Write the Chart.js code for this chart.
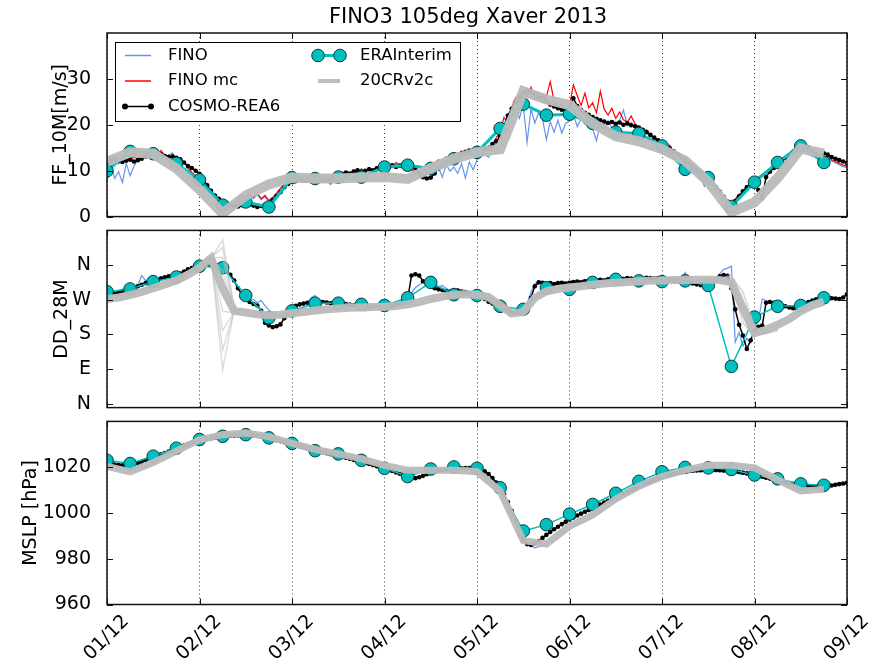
<!DOCTYPE html>
<html>
<head>
<meta charset="utf-8">
<script src="https://cdn.jsdelivr.net/npm/chart.js@4/dist/chart.umd.min.js"></script>
<style>
  html, body { margin: 0; padding: 0; background: #fff; }
  #wrap { position: relative; width: 873px; height: 667px; overflow: hidden; }
  #wrap canvas { position: absolute; left: 0; }
  #title { position: absolute; left: 0; top: 3px; width: 936px; text-align: center;
           font: 21px/27px 'DejaVu Sans', 'Liberation Sans', sans-serif; color: #000; white-space: nowrap; }
</style>
</head>
<body>
<div id="wrap">
  <canvas id="cFF" width="873" height="236" style="top:0px"></canvas>
  <canvas id="cDD" width="873" height="216" style="top:211px"></canvas>
  <canvas id="cMS" width="873" height="265" style="top:402px"></canvas>
  <div id="title"></div>
</div>
<script>
// ---- labels ----
const chartTitle = 'FINO3 105deg Xaver 2013';
const dayLabels = ['01/12', '02/12', '03/12', '04/12', '05/12', '06/12', '07/12', '08/12', '09/12'];
const dayTicks = [0, 24, 48, 72, 96, 120, 144, 168, 192];   // hours since 01/12 00 UTC
const ffTicks = [0, 10, 20, 30];
const ddTicks = [0, 90, 180, 270, 360];
const ddTickLabels = ['N', 'E', 'S', 'W', 'N'];
const msTicks = [960, 980, 1000, 1020];
const names = ['FINO', 'FINO mc', 'COSMO-REA6', 'ERAInterim', '20CRv2c'];

// ---- FF_10M [m/s] ----
// hourly, 01/12 00 .. 09/12 00
const finoFF = [
  7.5, 11.2, 8.3, 9.8, 7.4, 11.6, 8.9, 11.0, 12.4, 13.1, 13.8, 12.9, 14.1, 13.3, 13.9, 12.8, 13.4, 13.9, 12.2, 11.3, 11.7, 10.5, 9.4, 8.7,
  8.0, 6.9, 6.0, 5.0, 4.2, 3.4, 2.7, 2.2, 2.0, 2.8, 3.6, 4.3, 3.5, 4.6, 3.9, 4.8, 3.7, 4.3, 3.3, 3.9, 4.8, 5.9, 6.8, 7.3,
  8.0, 7.3, 8.1, 7.5, 8.3, 7.2, 7.8, 8.6, 7.5, 8.0, 7.0, 8.2, 8.7, 8.3, 9.2, 8.6, 9.9, 9.3, 10.1, 9.5, 10.4, 9.8, 10.6, 10.0,
  10.5, 11.2, 10.6, 11.5, 10.9, 10.3, 11.1, 10.0, 9.5, 8.8, 8.4, 9.1, 10.1, 9.2, 10.7, 8.6, 11.3, 9.9, 10.8, 9.4, 11.6, 8.4, 11.9, 10.2,
  12.4, 13.1, 13.6, 12.9, 14.8, 16.1, 17.3, 19.8, 19.0, 22.1, 23.6, 21.4, 24.3, 16.2, 23.5, 20.4, 22.6, 21.3, 16.8, 20.7, 18.4, 21.0, 18.2, 20.3,
  20.8, 22.4, 19.6, 21.3, 20.1, 21.7, 19.2, 16.5, 20.4, 19.6, 20.9, 19.3, 20.2, 21.0, 23.2, 19.8, 20.5, 19.4, 18.9, 18.1, 18.5, 17.0, 16.7, 15.8,
  15.4, 14.8, 15.1, 13.6, 13.2, 12.3, 12.5, 11.0, 10.4, 10.0, 8.8, 6.6, 7.5, 6.8, 6.4, 5.0, 4.3, 3.0, 2.7, 3.5, 4.6, 5.1, 6.3, 7.1,
  7.6, 8.2, 8.9, 9.3, 10.1, 10.8, 11.4, 12.2, 12.9, 13.5, 14.3, 14.6, 15.0, 14.5, 13.8, 13.1, 13.6, 12.8, 12.5, 13.0, 12.1, 11.7, 11.3, 10.9, 10.7
];
const finoMcFF = [
  10.5, 11.8, 12.9, 11.6, 12.7, 13.4, 12.2, 13.0, 12.5, 13.6, 14.2, 13.1, 14.0, 13.6, 14.4, 13.3, 12.7, 13.5, 12.4, 11.6, 11.9, 10.8, 9.6, 8.9,
  8.2, 7.1, 6.3, 5.2, 4.4, 3.6, 2.9, 2.4, 2.1, 3.0, 3.9, 4.6, 3.8, 4.9, 4.2, 5.1, 3.9, 4.6, 3.5, 4.2, 5.1, 6.2, 7.0, 7.6,
  8.3, 7.5, 8.4, 7.8, 8.6, 7.4, 8.0, 8.9, 7.7, 8.3, 7.2, 8.5, 9.0, 8.6, 9.5, 8.9, 10.2, 9.6, 10.4, 9.8, 10.7, 10.1, 10.9, 10.3,
  10.8, 11.5, 10.9, 11.8, 11.2, 10.6, 11.4, 10.3, 9.8, 9.1, 8.7, 9.4, 10.5, 11.7, 12.4, 11.8, 13.1, 12.6, 13.7, 13.2, 14.3, 13.6, 14.5, 13.9,
  14.1, 13.2, 15.0, 14.4, 15.6, 17.2, 18.5, 21.6, 20.4, 23.8, 25.9, 24.6, 27.1, 26.3, 28.2, 25.7, 26.8, 24.9, 26.1, 29.4, 25.2, 23.9, 24.8, 22.7,
  24.1, 28.7, 26.4, 24.2, 26.9, 23.7, 24.8, 22.6, 27.3, 23.4, 22.1, 23.6, 21.4, 22.8, 21.1, 20.6, 21.9, 20.2, 19.5, 18.7, 18.9, 17.6, 17.1, 16.2,
  15.8, 15.1, 15.6, 14.0, 13.7, 12.6, 12.9, 11.3, 10.8, 10.4, 9.1, 9.3, 7.8, 7.1, 6.7, 5.2, 4.6, 3.2, 2.9, 3.8, 4.9, 5.3, 6.6, 7.4,
  7.9, 8.5, 9.2, 9.6, 10.4, 11.1, 11.7, 12.5, 13.2, 13.8, 14.6, 14.9, 15.3, 14.8, 14.1, 13.4, 13.9, 13.1, 12.8, 13.3, 12.4, 12.0, 11.6, 11.2, 11.0
];
const cosmoFF = [
  11.8, 12.3, 12.5, 12.1, 11.9, 12.2, 12.4, 12.0, 12.3, 12.6, 13.1, 13.5, 13.8, 13.4, 13.6, 13.2, 13.0, 13.1, 12.8, 12.5, 11.8, 11.0, 10.6, 10.0,
  9.3, 8.2, 6.8, 5.6, 4.6, 3.9, 3.3, 3.0, 2.6, 2.4, 2.2, 2.5, 2.3, 2.6, 2.4, 2.1, 2.3, 2.6, 2.8, 3.6, 4.5, 5.3, 6.4, 7.1,
  7.6, 7.9, 8.2, 7.8, 8.0, 8.3, 8.1, 7.9, 8.2, 8.0, 8.4, 8.6, 8.9, 9.3, 9.6, 9.4, 9.8, 10.1, 9.7, 10.0, 10.3, 10.1, 10.5, 10.4,
  10.6, 10.9, 11.2, 10.8, 11.1, 11.4, 11.0, 11.3, 10.6, 9.5, 8.6, 8.3, 8.5, 9.4, 10.5, 11.2, 11.8, 12.3, 12.9, 13.4, 13.8, 14.1, 14.4, 14.2,
  14.5, 14.3, 14.7, 15.0, 15.8, 16.4, 17.5, 19.8, 22.0, 23.5, 24.8, 26.0, 26.9, 27.4, 27.2, 26.6, 25.9, 26.2, 25.1, 24.4, 24.0, 23.6, 23.3, 23.0,
  23.6, 25.8, 24.1, 23.2, 22.6, 22.2, 21.7, 21.3, 21.0, 20.7, 20.4, 20.6, 20.2, 20.5, 20.0, 20.3, 19.9, 19.7, 19.4, 18.9, 18.4, 17.8, 17.2, 16.6,
  16.0, 15.4, 14.9, 14.2, 13.6, 13.0, 12.3, 11.6, 10.9, 10.2, 9.6, 8.9, 8.2, 7.4, 6.4, 5.4, 4.3, 3.3, 2.6, 3.4, 4.4, 5.5, 6.4, 7.1,
  7.4, 5.8, 4.0, 8.6, 9.8, 10.6, 11.3, 12.0, 12.7, 13.3, 13.9, 14.5, 15.0, 15.4, 15.1, 14.3, 13.6, 13.2, 13.8, 13.5, 13.0, 12.6, 12.3, 12.0, 11.7
];
// 6-hourly, 01/12 00 .. 08/12 18
const eraFF = [10.0, 14.2, 13.7, 11.6, 8.0, 2.5, 3.2, 2.1, 8.5, 8.3, 8.6, 8.6, 10.8, 11.2, 10.5, 12.6,
               14.0, 19.2, 24.5, 22.1, 22.3, 20.3, 18.4, 18.1, 15.4, 10.3, 8.5, 2.2, 7.5, 11.8, 15.4, 11.8];
const crFF = [12.0, 14.0, 13.7, 10.5, 5.9, 0.7, 4.6, 7.0, 8.5, 8.3, 8.3, 8.5, 8.6, 8.2, 10.5, 12.6,
              14.0, 14.7, 27.3, 25.5, 24.3, 20.3, 17.5, 16.4, 14.7, 12.2, 7.6, 1.0, 3.1, 8.4, 14.8, 13.7];

// ---- DD_28M [deg] ----
const finoDD = [
  293, 296, 290, 294, 297, 300, 302, 305, 307, 333, 320, 322, 327, 324, 330, 329, 333, 336, 335, 340, 344, 348, 351, 354,
  357, 359, 358, 361, 359, 358, 352, 345, 333, 318, 296, 288, 276, 268, 271, 262, 268, 255, 243, 236, 229, 227, 232, 240,
  248, 253, 256, 259, 262, 276, 281, 266, 263, 262, 264, 261, 259, 257, 258, 262, 258, 256, 254, 251, 252, 255, 257, 255,
  256, 255, 257, 259, 262, 268, 276, 288, 301, 309, 314, 318, 311, 306, 303, 307, 299, 296, 300, 297, 293, 295, 290, 286,
  285, 280, 274, 267, 262, 258, 254, 249, 244, 240, 238, 239, 242, 258, 290, 312, 318, 316, 314, 316, 313, 315, 317, 315,
  317, 319, 318, 320, 322, 321, 323, 322, 325, 324, 326, 325, 327, 326, 328, 327, 326, 328, 327, 329, 328, 327, 328, 327,
  326, 325, 324, 322, 321, 320, 341, 318, 316, 315, 313, 312, 311, 315, 326, 338, 349, 352, 357, 160, 185, 150, 170, 158,
  200, 215, 272, 268, 264, 260, 257, 255, 254, 252, 251, 250, 255, 260, 266, 270, 273, 274, 276, 277, 276, 275, 274, 278, 285
];
const cosmoDD = [
  290, 287, 285, 289, 292, 295, 298, 301, 305, 309, 313, 316, 318, 321, 325, 328, 331, 332, 334, 338, 343, 349, 352, 355,
  358, 360, 361, 359, 362, 360, 354, 344, 335, 320, 300, 283, 272, 264, 259, 255, 241, 210, 203, 199, 201, 206, 222, 238,
  250, 254, 258, 260, 262, 263, 261, 262, 264, 263, 261, 262, 260, 258, 259, 257, 256, 255, 252, 246, 250, 254, 255, 254,
  255, 256, 254, 257, 259, 262, 270, 333, 336, 333, 318, 310, 306, 300, 297, 295, 292, 290, 292, 294, 291, 289, 287, 284,
  282, 278, 272, 265, 260, 256, 252, 247, 241, 237, 235, 236, 238, 252, 275, 305, 315, 314, 312, 313, 311, 313, 314, 312,
  314, 316, 317, 315, 318, 320, 319, 321, 322, 320, 323, 324, 322, 325, 324, 326, 325, 324, 326, 325, 327, 326, 325, 326,
  325, 324, 322, 320, 318, 317, 316, 314, 312, 310, 308, 306, 305, 310, 322, 331, 334, 332, 300, 245, 205, 177, 142, 165,
  190, 200, 203, 262, 264, 262, 258, 255, 253, 250, 248, 247, 252, 258, 264, 268, 271, 273, 274, 275, 274, 273, 272, 276, 284
];
const eraDD = [291, 298, 317, 329, 357, 353, 281, 223, 241, 261, 261, 258, 255, 275, 315, 283,
               281, 253, 245, 301, 297, 315, 323, 319, 317, 319, 307, 97, 225, 253, 255, 275];
// 3-hourly ensemble mean track, 01/12 00 .. 08/12 18
const crDD = [272, 276, 282, 290, 300, 310, 320, 335, 353, 378, 300, 241, 237, 232, 230, 231,
              235, 238, 242, 245, 247, 249, 250, 251, 252, 254, 258, 264, 272, 278, 283, 284,
              283, 277, 255, 234, 238, 275, 292, 298, 302, 305, 309, 312, 314, 316, 318, 319,
              320, 321, 321, 322, 322, 321, 316, 248, 183, 192, 205, 220, 240, 255, 265];
// individual ensemble members where they spread (3-hourly)
const crFanStartA = 24;
const crFanA = [
  [352, 376, 426, 250, 238], [354, 380, 405, 246, 236], [353, 377, 380, 243, 237],
  [355, 379, 345, 240, 238], [352, 375, 320, 242, 236], [354, 378, 280, 238, 237],
  [353, 376, 240, 236, 238], [355, 380, 190, 239, 236], [352, 377, 140, 241, 237],
  [354, 379, 89, 244, 238]
];
const crFanStartB = 156;
const crFanB = [
  [322, 324, 330, 290, 200, 186, 193], [322, 320, 312, 260, 190, 182, 192],
  [322, 322, 335, 230, 178, 184, 190], [322, 321, 318, 210, 175, 188, 194]
];

// ---- MSLP [hPa] ----
// 3-hourly station pressure
const finoMS = [1021.6, 1020.8, 1020.6, 1022.2, 1024.2, 1026.0, 1027.8, 1029.9, 1031.4, 1032.4, 1033.1, 1033.6, 1033.8,
                1033.4, 1032.4, 1031.2, 1029.8, 1028.5, 1027.1, 1025.9, 1024.7, 1023.5, 1022.1, 1020.7, 1019.2,
                1017.5, 1015.6, 1015.4, 1017.3, 1018.5, 1019.1, 1019.4, 1019.1, 1016.8, 1010.6, 1000.4, 987.5,
                984.8, 986.2, 988.9, 993.0, 995.5, 998.2, 1001.5, 1004.9, 1007.8, 1010.6, 1012.9, 1014.9,
                1016.5, 1017.5, 1018.0, 1018.2, 1018.0, 1017.6, 1016.9, 1016.1, 1015.1, 1014.0, 1012.8, 1011.8,
                1011.3, 1011.3, 1011.9, 1012.7];
const cosmoMS = [
  1021.8, 1021.5, 1021.2, 1021.0, 1020.8, 1020.7, 1020.8, 1021.2, 1021.8, 1022.4, 1023.1, 1023.8, 1024.4, 1025.0, 1025.6, 1026.2, 1026.8, 1027.4, 1028.0, 1028.7, 1029.4, 1030.1, 1030.7, 1031.2,
  1031.6, 1032.0, 1032.3, 1032.6, 1032.9, 1033.1, 1033.3, 1033.5, 1033.7, 1033.8, 1033.9, 1034.0, 1034.0, 1033.9, 1033.8, 1033.6, 1033.3, 1033.0, 1032.6, 1032.2, 1031.8, 1031.4, 1030.9, 1030.5,
  1030.0, 1029.5, 1029.1, 1028.7, 1028.2, 1027.8, 1027.3, 1026.9, 1026.5, 1026.1, 1025.7, 1025.3, 1024.9, 1024.5, 1024.1, 1023.7, 1023.2, 1022.8, 1022.3, 1021.9, 1021.4, 1020.9, 1020.4, 1019.9,
  1019.4, 1018.9, 1018.3, 1017.7, 1017.1, 1016.5, 1015.8, 1015.3, 1015.2, 1015.6, 1016.2, 1016.9, 1017.5, 1018.0, 1018.4, 1018.7, 1019.0, 1019.2, 1019.3, 1019.4, 1019.5, 1019.6, 1019.6, 1019.5,
  1019.3, 1018.9, 1018.2, 1017.0, 1015.3, 1013.3, 1011.0, 1008.2, 1004.8, 1000.9, 996.6, 992.0, 988.3, 986.4, 986.0, 986.6, 987.7, 989.1, 990.4, 991.7, 992.9, 994.0, 995.1, 996.1,
  997.1, 998.0, 998.9, 999.7, 1000.5, 1001.3, 1002.1, 1002.9, 1003.7, 1004.5, 1005.3, 1006.1, 1006.9, 1007.7, 1008.5, 1009.3, 1010.1, 1010.9, 1011.7, 1012.4, 1013.1, 1013.8, 1014.5, 1015.1,
  1015.7, 1016.2, 1016.7, 1017.1, 1017.5, 1017.8, 1018.1, 1018.3, 1018.5, 1018.6, 1018.7, 1018.8, 1018.8, 1018.8, 1018.8, 1018.7, 1018.6, 1018.5, 1018.3, 1018.1, 1017.9, 1017.6, 1017.3, 1017.0,
  1016.6, 1016.2, 1015.8, 1015.4, 1015.0, 1014.6, 1014.2, 1013.8, 1013.4, 1013.0, 1012.7, 1012.4, 1012.1, 1011.9, 1011.7, 1011.6, 1011.5, 1011.5, 1011.6, 1011.8, 1012.0, 1012.3, 1012.6, 1012.9, 1013.2
];
const eraMS = [1023.0, 1021.6, 1024.8, 1028.3, 1032.1, 1033.5, 1034.2, 1032.8, 1030.4, 1027.2, 1025.8, 1023.0, 1019.5, 1015.9, 1019.2, 1020.1,
               1019.5, 1011.0, 992.1, 994.9, 999.5, 1003.7, 1008.6, 1013.8, 1018.0, 1019.9, 1019.7, 1019.0, 1016.6, 1014.9, 1012.7, 1012.1];
const crMS = [1020.3, 1018.0, 1022.0, 1027.0, 1032.0, 1034.2, 1034.9, 1033.3, 1030.4, 1027.8, 1025.8, 1023.6, 1020.8, 1018.7, 1018.7, 1018.7,
              1018.0, 1009.6, 987.9, 986.4, 994.2, 999.1, 1006.1, 1011.7, 1015.9, 1018.7, 1020.8, 1020.8, 1019.7, 1014.5, 1009.6, 1010.3];

document.getElementById('title').textContent = chartTitle;

// ---- styling ----
const FONT = "'DejaVu Sans', 'Liberation Sans', sans-serif";
const FS = 19;
Chart.defaults.font.family = FONT;
Chart.defaults.color = '#000';
const C_FINO = '#6495ed', C_MC = '#ff0000', C_COSMO = '#000000', C_ERA = '#00bfbf', C_CR = 'rgba(186,186,186,0.96)';

function series(values, stepHours, startHour) {
  const s = startHour || 0;
  return values.map((v, i) => ({ x: s + i * stepHours, y: v }));
}

function lineSet(label, data, color, width, order, extra) {
  return Object.assign({ label, data, borderColor: color, backgroundColor: color, borderWidth: width,
    pointRadius: 0, fill: false, tension: 0, order }, extra || {});
}
function cosmoSet(data) {
  return lineSet(names[2], data, C_COSMO, 1.5, 2, { pointRadius: 2.3, pointBackgroundColor: '#000', pointBorderWidth: 0 });
}
function eraSet(data, width) {
  return lineSet(names[3], data, C_ERA, width, 1, { pointRadius: 6.3, pointBackgroundColor: C_ERA,
    pointBorderColor: '#0c3b3b', pointBorderWidth: 1 });
}

// frame and inward tick marks on all four sides of each panel
const frameTicks = {
  id: 'frameTicks',
  afterDraw(chart) {
    const { ctx, chartArea: a, scales } = chart;
    ctx.save();
    ctx.strokeStyle = '#111';
    ctx.lineWidth = 1;
    ctx.beginPath();
    scales.y.ticks.forEach(t => {
      const p = Math.round(scales.y.getPixelForValue(t.value)) + 0.5;
      ctx.moveTo(a.left, p); ctx.lineTo(a.left + 6, p);
      ctx.moveTo(a.right - 6, p); ctx.lineTo(a.right, p);
    });
    scales.x.ticks.forEach(t => {
      const p = Math.round(scales.x.getPixelForValue(t.value)) + 0.5;
      ctx.moveTo(p, a.top); ctx.lineTo(p, a.top + 6);
      ctx.moveTo(p, a.bottom - 6); ctx.lineTo(p, a.bottom);
    });
    ctx.stroke();
    ctx.lineWidth = 1.5;
    ctx.strokeRect(a.left, a.top, a.right - a.left, a.bottom - a.top);
    ctx.restore();
  }
};

// two-column legend box in the upper left of the wind speed panel
const panelLegend = {
  id: 'panelLegend',
  afterDraw(chart) {
    const { ctx, chartArea: a } = chart;
    const x0 = a.left + 8, y0 = a.top + 9, w = 345, h = 79;
    ctx.save();
    ctx.fillStyle = '#fff';
    ctx.fillRect(x0, y0, w, h);
    ctx.strokeStyle = '#000';
    ctx.lineWidth = 1;
    ctx.strokeRect(x0 + 0.5, y0 + 0.5, w, h);
    const rows = [y0 + 13.5, y0 + 39, y0 + 64.5];
    const c1 = x0 + 10, c2 = x0 + 198;
    const seg = (x1, x2, y, col, lw) => {
      ctx.strokeStyle = col; ctx.lineWidth = lw; ctx.beginPath(); ctx.moveTo(x1, y); ctx.lineTo(x2, y); ctx.stroke();
    };
    const dot = (x, y, r, fill, stroke) => {
      ctx.beginPath(); ctx.arc(x, y, r, 0, Math.PI * 2); ctx.fillStyle = fill; ctx.fill();
      if (stroke) { ctx.strokeStyle = stroke; ctx.lineWidth = 1; ctx.stroke(); }
    };
    seg(c1, c1 + 26, rows[0], C_FINO, 1.5);
    seg(c1, c1 + 26, rows[1], C_MC, 1.5);
    seg(c1, c1 + 26, rows[2], C_COSMO, 1.5);
    dot(c1, rows[2], 3, '#000'); dot(c1 + 26, rows[2], 3, '#000');
    seg(c2, c2 + 32, rows[0], C_ERA, 3);
    dot(c2 + 5, rows[0], 6.3, C_ERA, '#0c3b3b'); dot(c2 + 27, rows[0], 6.3, C_ERA, '#0c3b3b');
    seg(c2 + 5, c2 + 27, rows[1], C_CR, 4);
    ctx.fillStyle = '#000';
    ctx.font = '16.5px ' + FONT;
    ctx.textBaseline = 'middle';
    ctx.fillText(names[0], c1 + 43, rows[0]);
    ctx.fillText(names[1], c1 + 43, rows[1]);
    ctx.fillText(names[2], c1 + 43, rows[2]);
    ctx.fillText(names[3], c2 + 47, rows[0]);
    ctx.fillText(names[4], c2 + 47, rows[1]);
    ctx.restore();
  }
};

// y axis box spans the whole left margin; the axis title sits at titleGap from the canvas edge
function panel(id, cfg) {
  return new Chart(document.getElementById(id), {
    type: 'line',
    data: { datasets: cfg.datasets },
    options: {
      responsive: false,
      animation: false,
      events: [],
      layout: { padding: cfg.padding },
      plugins: {
        legend: { display: false },
        tooltip: { enabled: false },
        title: { display: false }
      },
      scales: {
        x: {
          type: 'linear', min: 0, max: 192,
          afterBuildTicks: s => { s.ticks = dayTicks.map(v => ({ value: v })); },
          afterFit: s => { s.height = cfg.xHeight; },
          grid: { display: true, drawOnChartArea: true, drawTicks: false, color: 'rgba(0,0,0,0.75)', lineWidth: 1 },
          border: { display: false, dash: [1, 3] },
          ticks: cfg.xTicks || { display: false }
        },
        y: {
          type: 'linear', min: cfg.yMin, max: cfg.yMax,
          afterBuildTicks: s => { s.ticks = cfg.yTicks.map(v => ({ value: v })); },
          afterFit: s => { s.width = 107; },
          grid: { display: false },
          border: { display: false },
          ticks: { padding: 8, font: { size: FS }, color: '#000', callback: cfg.yLabel },
          title: { display: true, text: cfg.yTitle, padding: { top: cfg.titleGap, bottom: 0 }, font: { size: FS }, color: '#000' }
        }
      }
    },
    plugins: [frameTicks].concat(cfg.extraPlugins || [])
  });
}

// wind speed
panel('cFF', {
  padding: { left: 0, right: 26, top: 33, bottom: 13 },
  xHeight: 0, yMin: 0, yMax: 40, yTicks: ffTicks, titleGap: 49.5,
  yLabel: v => String(v), yTitle: 'FF_10M[m/s]',
  extraPlugins: [panelLegend],
  datasets: [
    lineSet(names[4], series(crFF, 6), C_CR, 10, 0),
    eraSet(series(eraFF, 6), 3),
    cosmoSet(series(cosmoFF, 1)),
    lineSet(names[1], series(finoMcFF, 1), C_MC, 1.2, 3),
    lineSet(names[0], series(finoFF, 1), C_FINO, 1.2, 4)
  ]
});

// wind direction
panel('cDD', {
  padding: { left: 0, right: 26, top: 12, bottom: 12.5 },
  xHeight: 0, yMin: -10, yMax: 450, yTicks: ddTicks, titleGap: 51,
  yLabel: (v, i) => ddTickLabels[i], yTitle: 'DD_28M',
  datasets: [
    lineSet(names[4], series(crDD, 3), C_CR, 8, 0),
    ...crFanA.map(m => lineSet(names[4], series(m, 3, crFanStartA), 'rgba(192,192,192,0.55)', 1.5, 0.5)),
    ...crFanB.map(m => lineSet(names[4], series(m, 3, crFanStartB), 'rgba(192,192,192,0.55)', 2, 0.5)),
    eraSet(series(eraDD, 6), 1.5),
    cosmoSet(series(cosmoDD, 1)),
    lineSet(names[0], series(finoDD, 1), C_FINO, 1.2, 4)
  ]
});

// mean sea level pressure
panel('cMS', {
  padding: { left: 0, right: 26, top: 12.5, bottom: 0 },
  xHeight: 62.5, yMin: 960, yMax: 1040, yTicks: msTicks, titleGap: 19.5,
  yLabel: v => String(v), yTitle: 'MSLP [hPa]',
  xTicks: { display: true, autoSkip: false, maxRotation: 45, minRotation: 45, padding: 6, labelOffset: 19,
            font: { size: FS }, color: '#000', callback: (v, i) => dayLabels[i] },
  datasets: [
    lineSet(names[4], series(crMS, 6), C_CR, 7, 0),
    eraSet(series(eraMS, 6), 1.5),
    cosmoSet(series(cosmoMS, 1)),
    lineSet(names[0], series(finoMS, 3), C_FINO, 1.2, 4)
  ]
});
</script>
</body>
</html>
